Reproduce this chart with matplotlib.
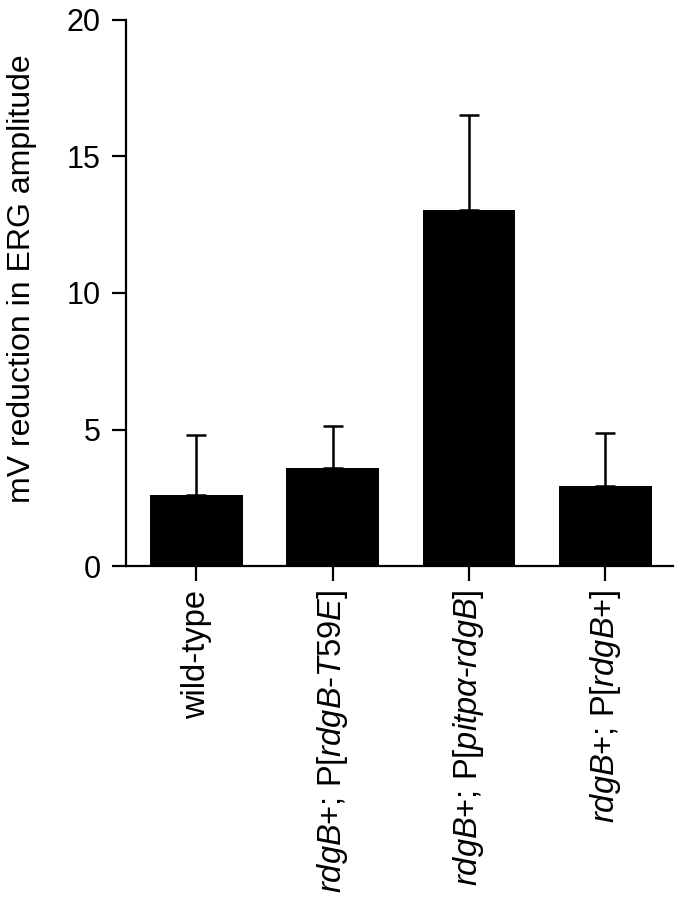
import matplotlib
matplotlib.use("Agg")
import matplotlib.pyplot as plt

plt.rcParams['font.family'] = ['Liberation Sans', 'DejaVu Sans']
plt.rcParams['mathtext.fontset'] = 'custom'
plt.rcParams['mathtext.rm'] = 'Liberation Sans'
plt.rcParams['mathtext.it'] = 'Liberation Sans:italic'

genotypes = [
    "wild-type",
    r"$\mathit{rdgB}$+; P[$\mathit{rdgB}$-$\mathit{T59E}$]",
    r"$\mathit{rdgB}$+; P[$\mathit{pitp\alpha}$-$\mathit{rdgB}$]",
    r"$\mathit{rdgB}$+; P[$\mathit{rdgB}$+]",
]
reduction = [2.6, 3.6, 13.05, 2.92]
err_up = [2.19, 1.52, 3.45, 1.96]

fig = plt.figure(figsize=(6.81, 9.0), dpi=100)
ax = fig.add_axes([0.185, 0.371, 0.803, 0.607])

x = range(len(genotypes))
ax.bar(x, reduction, width=0.68, color='black', zorder=2)
ax.errorbar(x, reduction, yerr=[[0] * 4, err_up], fmt='none', ecolor='black',
            elinewidth=1.8, capsize=7, capthick=1.8, zorder=1)

ax.set_xlim(-0.517, 3.496)
ax.set_ylim(0, 20)
ax.set_yticks([0, 5, 10, 15, 20])
ax.set_xticks(list(x))
ax.set_xticklabels(genotypes, rotation=90, fontsize=23.5)
ax.tick_params(axis='y', labelsize=22, length=10, width=1.6, direction='out', pad=8)
ax.tick_params(axis='x', length=11, width=1.6, direction='out', pad=6)
ax.set_ylabel("mV reduction in ERG amplitude", fontsize=23)
ax.yaxis.set_label_coords(-0.162, 0.527)

for s in ['top', 'right']:
    ax.spines[s].set_visible(False)
for s in ['left', 'bottom']:
    ax.spines[s].set_linewidth(1.6)

fig.savefig("out.png", dpi=100)
